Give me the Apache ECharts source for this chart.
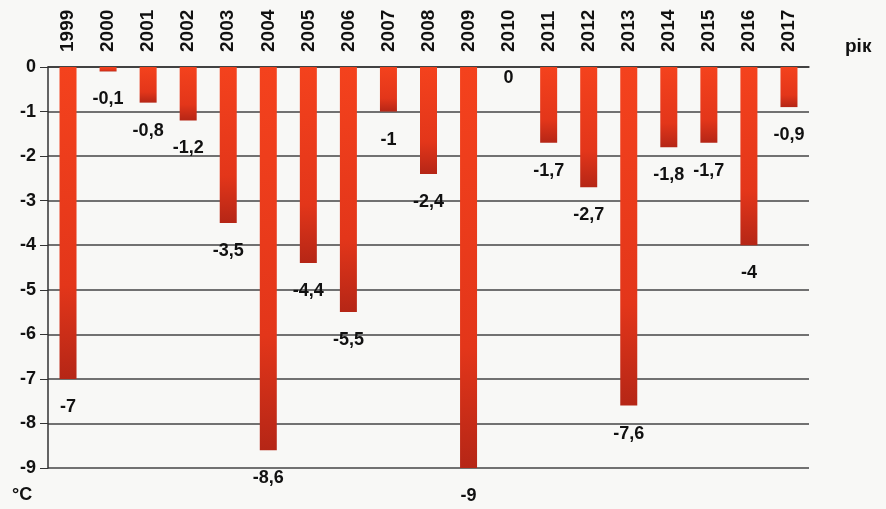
<!DOCTYPE html>
<html>
<head>
<meta charset="utf-8">
<script src="https://cdn.jsdelivr.net/npm/echarts@6/dist/echarts.min.js"></script>
<style>
  html, body { margin: 0; padding: 0; background: #f8f8f6; }
  #chart { width: 886px; height: 509px; }
</style>
</head>
<body>
<div id="chart"></div>
<script>
// роки та відхилення температури, °C
const years = ['1999', '2000', '2001', '2002', '2003', '2004', '2005', '2006', '2007', '2008',
  '2009', '2010', '2011', '2012', '2013', '2014', '2015', '2016', '2017'];
const values = [-7, -0.1, -0.8, -1.2, -3.5, -8.6, -4.4, -5.5, -1, -2.4,
  -9, 0, -1.7, -2.7, -7.6, -1.8, -1.7, -4, -0.9];
const yTicks = [0, -1, -2, -3, -4, -5, -6, -7, -8, -9];

const fmt = v => String(v).replace('.', ',');

let myChart = echarts.init(document.getElementById('chart'));
myChart.setOption({
  textStyle: { fontFamily: 'Liberation Sans' },
  grid: { top: 67, bottom: 41, left: 48, right: 77 },
  xAxis: {
    type: 'category',
    position: 'top',
    data: years,
    axisLine: { lineStyle: { color: '#333', width: 1.5 } },
    axisTick: { inside: true, length: 6, lineStyle: { color: '#333' } },
    axisLabel: {
      rotate: 90, color: '#111', fontWeight: 'bold', fontSize: 19, margin: 15
    }
  },
  yAxis: {
    type: 'value',
    min: -9, max: 0, interval: 1,
    axisLine: { show: true, lineStyle: { color: '#333', width: 1.5 } },
    axisTick: { show: true, length: 8, lineStyle: { color: '#333' } },
    splitLine: { lineStyle: { color: '#444', width: 1.5 } },
    axisLabel: {
      color: '#111', fontWeight: 'bold', fontSize: 18, margin: 12,
      formatter: v => yTicks.includes(v) ? String(v) : ''
    }
  },
  series: [{
    type: 'bar',
    // нульове значення підписуємо одразу під віссю
    data: values.map(v => v === 0 ? { value: v, label: { distance: 2 } } : v),
    barWidth: 17,
    itemStyle: {
      color: new echarts.graphic.LinearGradient(0, 0, 0, 1, [
        { offset: 0, color: '#f4421d' },
        { offset: 0.7, color: '#e3361a' },
        { offset: 1, color: '#b52616' }
      ])
    },
    label: {
      show: true,
      position: 'bottom',
      distance: 19,
      color: '#111',
      fontWeight: 'bold',
      fontSize: 18,
      formatter: p => fmt(p.value)
    }
  }],
  graphic: [
    { type: 'text', left: 845, top: 37, style: { text: 'рік', fontFamily: 'Liberation Sans', fontWeight: 'bold', fontSize: 19, fill: '#111' } },
    { type: 'text', left: 12, top: 486, style: { text: '°C', fontFamily: 'Liberation Sans', fontWeight: 'bold', fontSize: 18, fill: '#111' } }
  ]
});
</script>
</body>
</html>
